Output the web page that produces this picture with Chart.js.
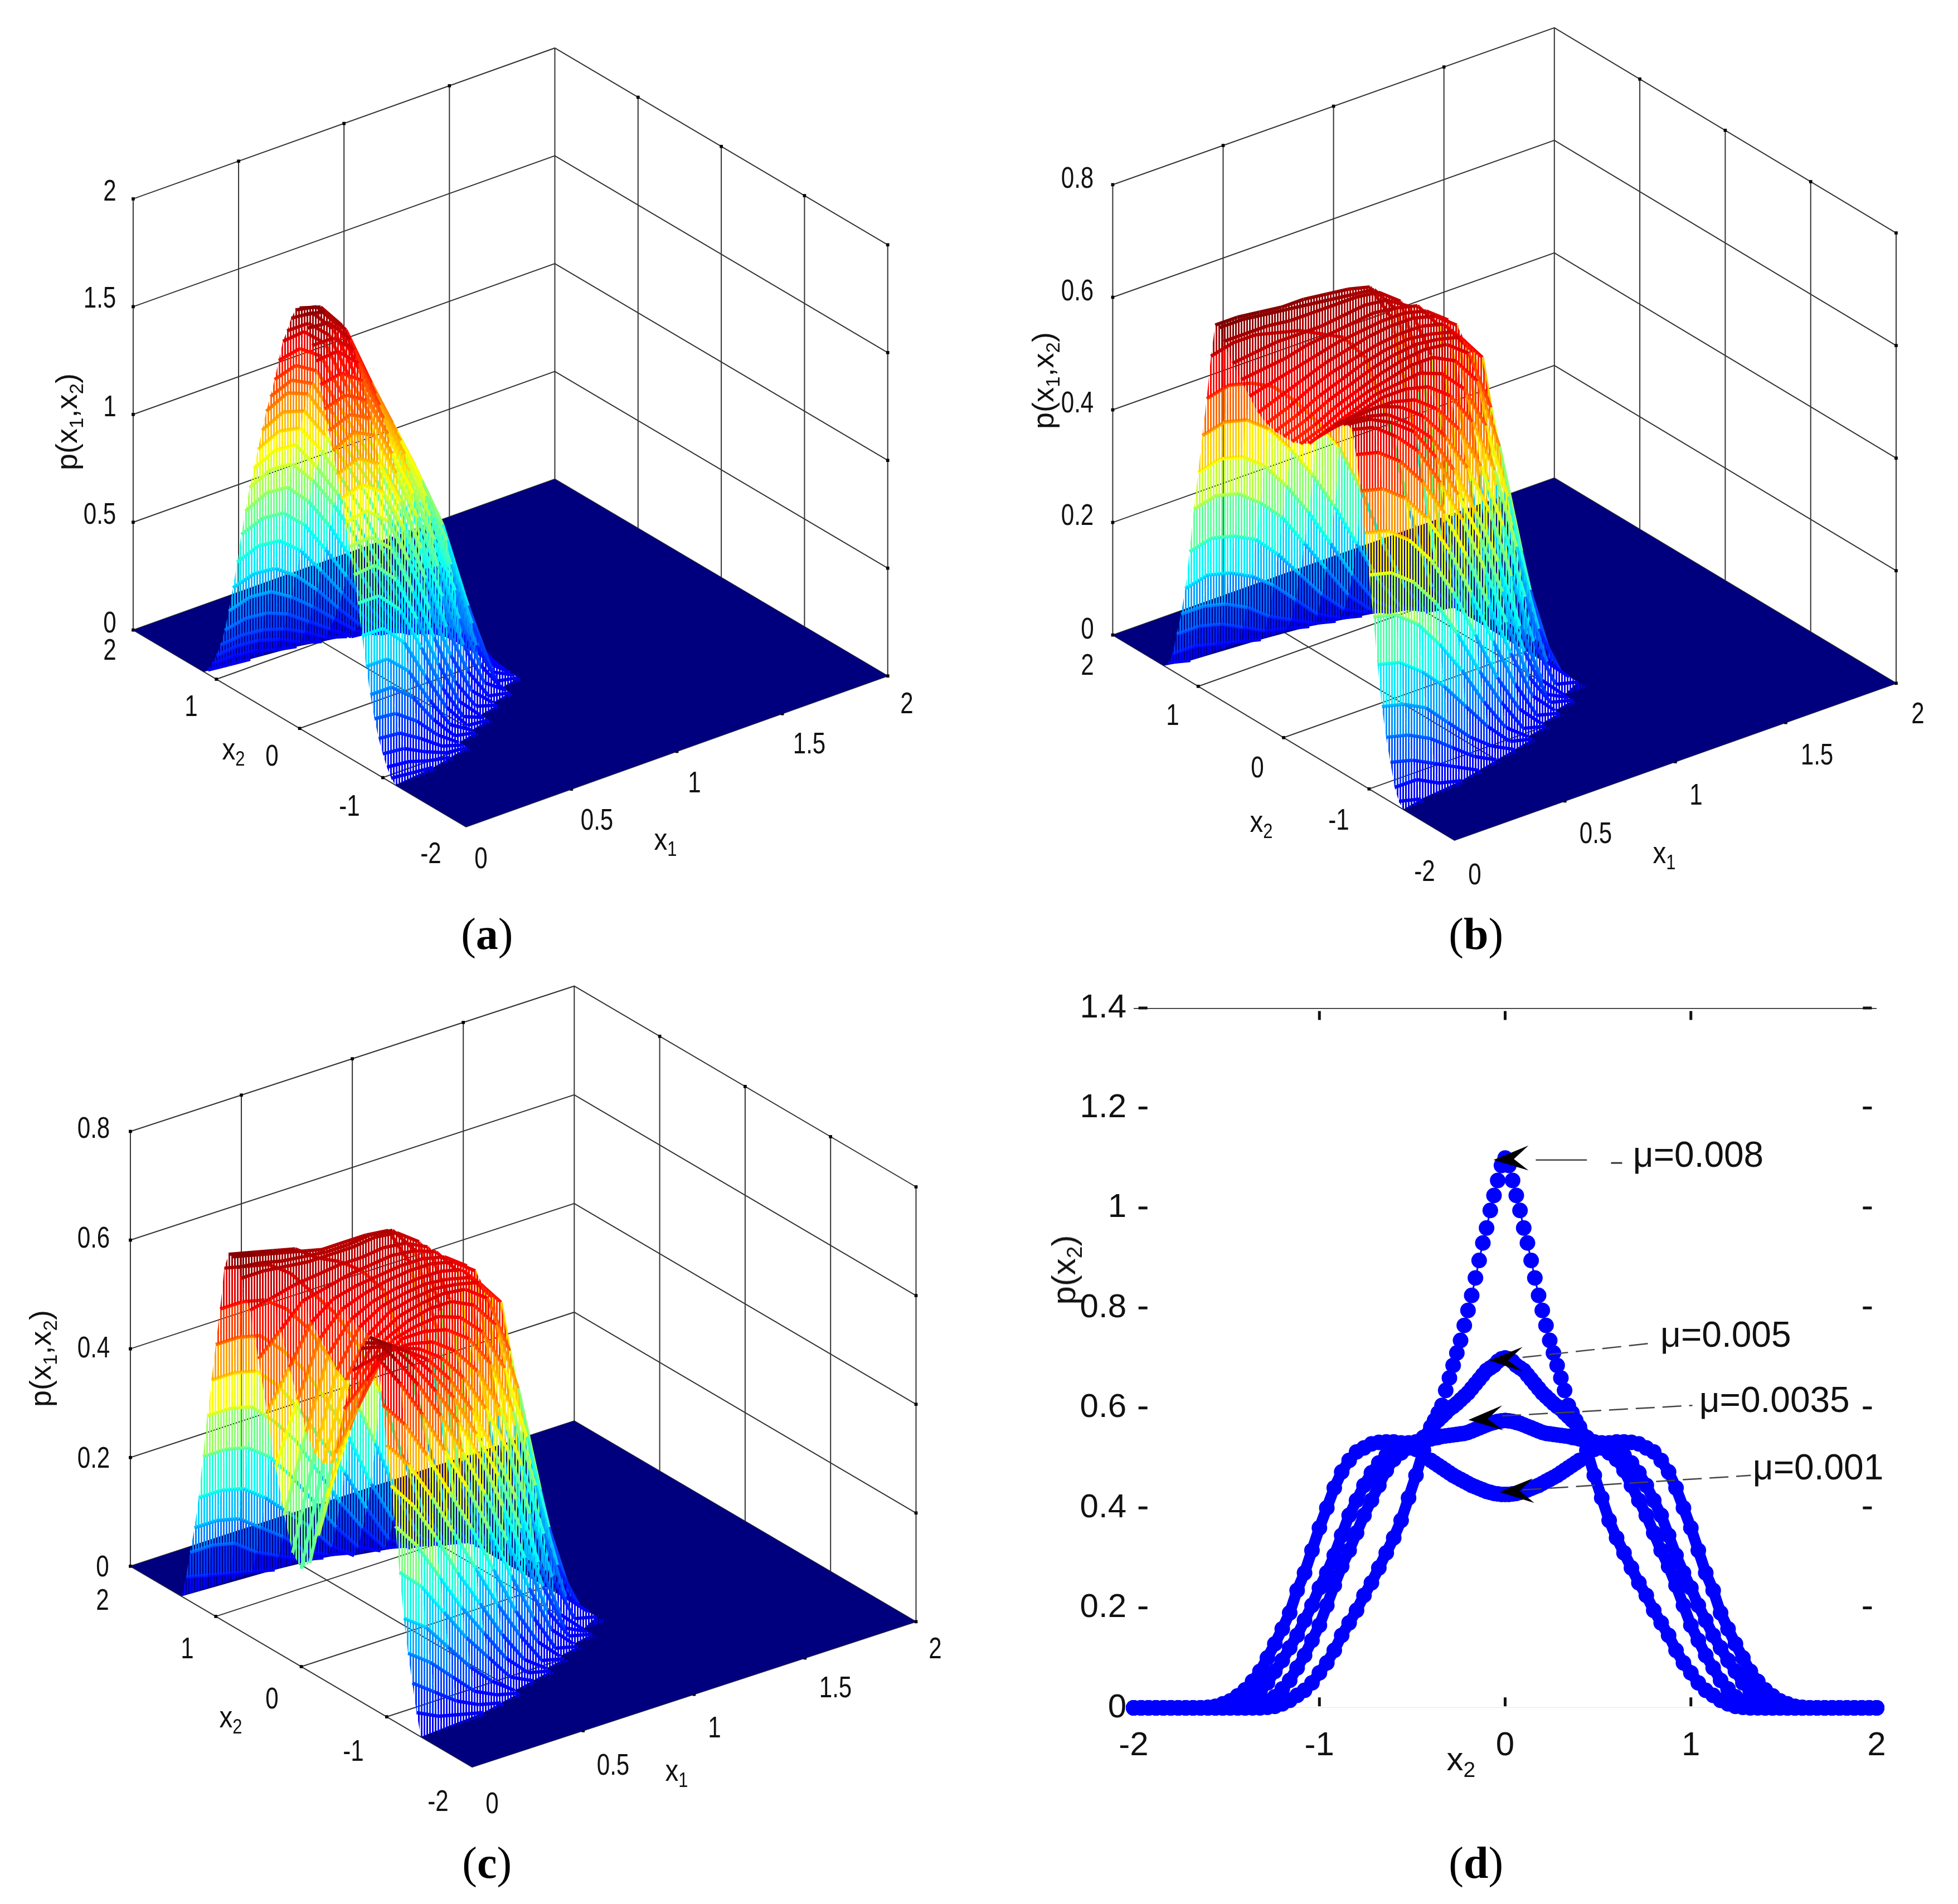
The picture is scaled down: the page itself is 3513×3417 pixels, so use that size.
<!DOCTYPE html>
<html>
<head>
<meta charset="utf-8">
<title>p(x1,x2)</title>
<script src="https://cdn.jsdelivr.net/npm/chart.js@4"></script>
<style>
html,body{margin:0;padding:0;background:#fff;}
#page{position:relative;width:3513px;height:3417px;overflow:hidden;background:#fff;}
canvas{position:absolute;}
.lab{position:absolute;font-family:"Liberation Sans",sans-serif;color:#111;white-space:nowrap;line-height:1;}
.lab sub{font-size:65%;vertical-align:-0.3em;line-height:0;}
.cap{position:absolute;font-family:"Liberation Serif",serif;font-size:80px;color:#000;white-space:nowrap;line-height:1;transform:translate(-50%,-50%);}
</style>
</head>
<body>
<div id="page"></div>
<script>
// surface tables. rows are |x2|, far = x2 >= 0 side, near = x2 <= 0 side
const x1ColsA = [0,.1,.2,.3,.4,.5,.6,.7,.8,.9];
const x2RowsA = [0,.05,.1,.15,.2,.25,.3,.35,.4,.45,.5,.55,.6,.65,.7,.75,.8,.85,.9,.95,1,1.05,1.1,1.15];
const surfaceA = [
  [1.95,1.92,1.80,1.56,1.33,1.11,.85,.50,.15,0],
  [1.93,1.91,1.79,1.55,1.32,1.10,.84,.49,.15,0],
  [1.88,1.87,1.76,1.52,1.30,1.08,.83,.48,.15,0],
  [1.81,1.81,1.72,1.48,1.27,1.05,.81,.47,.14,0],
  [1.75,1.76,1.67,1.44,1.24,1.02,.79,.46,.14,0],
  [1.65,1.67,1.60,1.39,1.19,.98,.76,.44,.13,0],
  [1.55,1.58,1.52,1.33,1.14,.94,.72,.42,.13,0],
  [1.46,1.50,1.45,1.27,1.09,.90,.68,.40,.12,0],
  [1.38,1.43,1.39,1.22,1.04,.86,.65,.38,.12,0],
  [1.28,1.33,1.30,1.15,.98,.80,.58,.33,.09,0],
  [1.18,1.23,1.21,1.07,.90,.71,.49,.26,.06,0],
  [1.08,1.13,1.12,.98,.82,.63,.42,.21,.04,0],
  [.98,1.03,1.02,.91,.76,.58,.36,.16,.03,0],
  [.86,.91,.90,.80,.65,.47,.27,.11,.01,0],
  [.74,.78,.77,.68,.53,.37,.20,.06,0,0],
  [.60,.64,.63,.55,.42,.28,.14,.03,0,0],
  [.47,.50,.49,.42,.32,.20,.09,.01,0,0],
  [.35,.38,.37,.31,.23,.14,.05,0,0,0],
  [.25,.27,.26,.22,.15,.08,.01,0,0,0],
  [.17,.18,.17,.14,.09,.03,0,0,0,0],
  [.11,.12,.11,.08,.03,0,0,0,0,0],
  [.06,.06,.05,.02,0,0,0,0,0,0],
  [.02,.01,0,0,0,0,0,0,0,0],
  [0,0,0,0,0,0,0,0,0,0]
];
const nearA = [
  [1.95,1.92,1.80,1.56,1.33,1.11,.85,.50,.15,0],
  [1.93,1.91,1.79,1.55,1.32,1.10,.84,.49,.15,0],
  [1.88,1.87,1.76,1.52,1.30,1.08,.83,.48,.14,0],
  [1.81,1.81,1.72,1.48,1.27,1.05,.81,.46,.12,0],
  [1.75,1.76,1.67,1.44,1.24,1.02,.78,.43,.10,0],
  [1.65,1.67,1.60,1.39,1.19,.96,.72,.38,.08,0],
  [1.55,1.58,1.52,1.33,1.12,.88,.62,.31,.05,0],
  [1.46,1.50,1.45,1.25,1.03,.78,.51,.22,.02,0],
  [1.38,1.43,1.38,1.17,.93,.67,.39,.14,0,0],
  [1.28,1.32,1.26,1.05,.80,.54,.28,.07,0,0],
  [1.18,1.21,1.14,.93,.67,.41,.17,.02,0,0],
  [1.08,1.10,1.02,.80,.54,.29,.09,0,0,0],
  [.98,.99,.90,.67,.42,.18,.03,0,0,0],
  [.86,.87,.77,.55,.31,.10,0,0,0,0],
  [.74,.74,.64,.43,.21,.04,0,0,0,0],
  [.60,.60,.50,.31,.13,.01,0,0,0,0],
  [.47,.47,.38,.21,.06,0,0,0,0,0],
  [.35,.35,.27,.13,.02,0,0,0,0,0],
  [.25,.24,.17,.07,0,0,0,0,0,0],
  [.17,.16,.10,.03,0,0,0,0,0,0],
  [.11,.10,.05,.01,0,0,0,0,0,0],
  [.06,.05,.02,0,0,0,0,0,0,0],
  [.02,.01,0,0,0,0,0,0,0,0],
  [0,0,0,0,0,0,0,0,0,0]
];

const x1ColsBC = [0,.1,.2,.3,.4,.5,.6,.7,.8,.9,1,1.1];
const x2RowsBC = [0,.1,.2,.3,.4,.5,.6,.7,.75,.8,.85,.9,.95,1,1.05,1.1,1.15,1.2,1.25,1.3,1.35,1.4];
const surfaceB = [
  [.535,.55,.57,.585,.60,.61,.615,.61,.60,.55,.30,.03],
  [.535,.55,.57,.585,.60,.61,.615,.61,.60,.55,.30,.03],
  [.54,.555,.575,.59,.60,.61,.615,.615,.605,.56,.30,.03],
  [.55,.565,.58,.595,.605,.615,.62,.62,.61,.58,.30,.02],
  [.57,.58,.59,.60,.61,.615,.62,.62,.61,.58,.28,.02],
  [.59,.595,.60,.61,.615,.62,.625,.62,.61,.56,.24,.02],
  [.61,.615,.62,.62,.62,.625,.63,.625,.60,.50,.20,.01],
  [.64,.64,.64,.635,.635,.635,.635,.63,.60,.46,.18,.01],
  [.66,.66,.655,.65,.645,.64,.635,.63,.58,.42,.15,.01],
  [.66,.66,.655,.65,.65,.645,.64,.63,.56,.35,.10,0],
  [.60,.61,.61,.60,.59,.57,.55,.50,.38,.20,.05,0],
  [.52,.53,.52,.50,.46,.41,.35,.26,.15,.06,0,0],
  [.45,.46,.45,.42,.37,.31,.24,.16,.08,.02,0,0],
  [.38,.39,.38,.35,.30,.24,.17,.10,.04,.01,0,0],
  [.31,.32,.31,.28,.24,.18,.12,.06,.02,0,0,0],
  [.23,.24,.23,.21,.17,.12,.07,.03,.01,0,0,0],
  [.16,.17,.16,.14,.11,.07,.03,.01,0,0,0,0],
  [.11,.11,.10,.08,.05,.03,.01,0,0,0,0,0],
  [.07,.07,.06,.04,.02,.01,0,0,0,0,0,0],
  [.03,.03,.02,.01,0,0,0,0,0,0,0,0],
  [.01,0,0,0,0,0,0,0,0,0,0,0],
  [0,0,0,0,0,0,0,0,0,0,0,0]
];
const nearB = [
  [.535,.55,.57,.585,.60,.61,.615,.61,.60,.55,.30,.03],
  [.535,.55,.57,.585,.60,.61,.615,.61,.58,.47,.25,.03],
  [.54,.555,.575,.59,.60,.61,.61,.59,.54,.41,.21,.02],
  [.55,.565,.58,.595,.60,.605,.59,.55,.47,.33,.15,.01],
  [.57,.58,.59,.60,.60,.59,.56,.50,.40,.25,.09,0],
  [.59,.595,.60,.60,.59,.56,.51,.43,.31,.17,.04,0],
  [.61,.615,.615,.60,.57,.52,.45,.36,.23,.10,.01,0],
  [.62,.62,.61,.58,.54,.47,.38,.28,.15,.04,0,0],
  [.625,.62,.60,.57,.51,.43,.34,.23,.11,.02,0,0],
  [.62,.61,.58,.54,.47,.39,.29,.18,.07,.01,0,0],
  [.58,.57,.54,.49,.42,.33,.23,.13,.04,0,0,0],
  [.52,.51,.48,.43,.36,.27,.17,.08,.01,0,0,0],
  [.45,.44,.41,.36,.29,.20,.11,.04,0,0,0,0],
  [.38,.37,.34,.29,.22,.14,.07,.01,0,0,0,0],
  [.31,.30,.27,.22,.16,.09,.03,0,0,0,0,0],
  [.23,.22,.19,.15,.10,.05,.01,0,0,0,0,0],
  [.16,.15,.13,.09,.05,.02,0,0,0,0,0,0],
  [.11,.10,.08,.05,.02,0,0,0,0,0,0,0],
  [.07,.06,.04,.02,0,0,0,0,0,0,0,0],
  [.03,.03,.01,0,0,0,0,0,0,0,0,0],
  [.01,0,0,0,0,0,0,0,0,0,0,0],
  [0,0,0,0,0,0,0,0,0,0,0,0]
];
const surfaceC = [
  [.18,.36,.50,.57,.60,.61,.615,.61,.60,.55,.30,.03],
  [.20,.37,.51,.575,.60,.61,.615,.61,.60,.55,.30,.03],
  [.26,.40,.53,.58,.60,.61,.615,.615,.605,.56,.30,.03],
  [.34,.45,.55,.59,.605,.615,.62,.62,.61,.58,.30,.02],
  [.43,.50,.57,.60,.61,.615,.62,.62,.61,.58,.28,.02],
  [.52,.56,.60,.61,.62,.625,.63,.625,.61,.56,.24,.02],
  [.60,.61,.62,.625,.63,.63,.635,.63,.61,.50,.20,.01],
  [.65,.65,.645,.64,.64,.64,.645,.64,.61,.47,.18,.01],
  [.665,.66,.65,.645,.64,.64,.645,.64,.59,.43,.15,.01],
  [.68,.67,.66,.65,.64,.64,.64,.635,.56,.36,.10,0],
  [.68,.67,.66,.65,.62,.60,.57,.52,.39,.21,.05,0],
  [.65,.64,.63,.60,.55,.50,.43,.33,.20,.08,.01,0],
  [.57,.57,.56,.53,.48,.41,.33,.23,.12,.03,0,0],
  [.50,.50,.49,.45,.40,.33,.25,.15,.07,.01,0,0],
  [.43,.43,.42,.38,.32,.25,.18,.10,.03,0,0,0],
  [.36,.36,.35,.31,.26,.19,.12,.06,.01,0,0,0],
  [.28,.28,.27,.24,.19,.13,.07,.02,0,0,0,0],
  [.20,.20,.19,.16,.12,.08,.03,0,0,0,0,0],
  [.14,.14,.13,.10,.07,.03,.01,0,0,0,0,0],
  [.09,.09,.08,.05,.03,.01,0,0,0,0,0,0],
  [.04,.03,.02,.01,0,0,0,0,0,0,0,0],
  [0,0,0,0,0,0,0,0,0,0,0,0]
];
const nearC = [
  [.18,.36,.50,.57,.60,.61,.615,.61,.60,.55,.30,.03],
  [.20,.37,.51,.575,.60,.61,.615,.61,.58,.47,.25,.03],
  [.26,.40,.53,.58,.60,.61,.61,.59,.54,.41,.21,.02],
  [.34,.45,.55,.59,.60,.605,.59,.55,.47,.33,.15,.01],
  [.43,.50,.57,.60,.60,.59,.56,.50,.40,.25,.09,0],
  [.52,.56,.60,.60,.59,.56,.51,.43,.31,.17,.04,0],
  [.60,.61,.615,.60,.57,.52,.45,.36,.23,.10,.01,0],
  [.65,.64,.62,.59,.54,.47,.38,.28,.15,.04,0,0],
  [.665,.65,.62,.57,.51,.43,.34,.23,.11,.02,0,0],
  [.68,.65,.60,.54,.47,.39,.29,.18,.07,.01,0,0],
  [.68,.63,.57,.50,.42,.33,.23,.13,.04,0,0,0],
  [.65,.59,.52,.44,.36,.27,.17,.08,.01,0,0,0],
  [.57,.52,.45,.37,.29,.20,.11,.04,0,0,0,0],
  [.50,.45,.38,.30,.22,.14,.07,.01,0,0,0,0],
  [.43,.38,.31,.23,.16,.09,.03,0,0,0,0,0],
  [.36,.31,.24,.17,.11,.05,.01,0,0,0,0,0],
  [.28,.24,.18,.12,.07,.02,0,0,0,0,0,0],
  [.20,.17,.12,.07,.03,0,0,0,0,0,0,0],
  [.14,.11,.07,.03,.01,0,0,0,0,0,0,0],
  [.09,.06,.03,.01,0,0,0,0,0,0,0,0],
  [.04,.02,.01,0,0,0,0,0,0,0,0,0],
  [0,0,0,0,0,0,0,0,0,0,0,0]
];

// panel (d): x2 >= 0 half of each curve
const x2Half = [0,.02,.04,.06,.08,.1,.12,.14,.16,.18,.2,.22,.24,.26,.28,.3,.32,.34,.36,.38,.4,
  .44,.48,.52,.56,.6,.64,.68,.72,.76,.8,.84,.88,.92,.96,1,1.04,1.08,1.12,1.16,1.2,
  1.24,1.28,1.32,1.36,1.4,1.44,1.48,1.52,1.56,1.6,1.64,1.68,1.72,1.76,1.8,1.84,1.88,1.92,1.96,2];
const mu008 = [1.10,1.085,1.055,1.025,.995,.96,.93,.895,.86,.825,.795,.765,.735,.71,.685,.66,.635,.605,.59,.575,.555,
  .515,.465,.42,.375,.34,.31,.28,.25,.225,.195,.17,.145,.115,.09,.07,.05,.035,.025,.015,.008,.003,.001,0,
  0,0,0,0,0,0,0,0,0,0,0,0,0,0,0,0,0];
const mu005 = [.70,.698,.693,.685,.68,.675,.666,.657,.648,.639,.63,.623,.616,.609,.603,.598,.59,.583,.576,.569,.562,
  .541,.53,.52,.51,.497,.475,.445,.415,.385,.35,.315,.283,.245,.205,.165,.135,.105,.08,.055,.038,.022,.012,.005,.001,
  0,0,0,0,0,0,0,0,0,0,0,0,0,0,0,0];
const mu0035 = [.575,.574,.573,.571,.569,.566,.563,.56,.557,.554,.551,.549,.548,.547,.546,.545,.544,.543,.541,.54,.538,
  .535,.532,.53,.525,.515,.505,.49,.47,.445,.415,.385,.345,.305,.27,.24,.205,.175,.145,.12,.095,.073,.05,.032,.02,.01,.005,.002,
  0,0,0,0,0,0,0,0,0,0,0,0,0];
const mu001 = [.427,.427,.428,.429,.431,.433,.436,.439,.442,.445,.449,.453,.457,.461,.465,.47,.475,.48,.485,.49,.495,
  .505,.517,.526,.53,.532,.532,.531,.528,.52,.512,.495,.472,.44,.40,.36,.315,.27,.235,.19,.158,.128,.10,.073,.053,.036,.024,.014,.008,.003,.001,
  0,0,0,0,0,0,0,0,0,0];
const yTicksD = [0,.2,.4,.6,.8,1,1.2,1.4];
const xTicksD = [-2,-1,0,1,2];
const muLabels = ['μ=0.008','μ=0.005','μ=0.0035','μ=0.001'];

const page = document.getElementById('page');
const S = 3513/1568; // label spots were read on the 1568 wide view

function addText(html, sx, sy, size, extra, cls){
  const d = document.createElement('div');
  d.className = cls || 'lab';
  d.innerHTML = html;
  d.style.left = (sx*S)+'px';
  d.style.top = (sy*S)+'px';
  if(size) d.style.fontSize = size+'px';
  if(cls !== 'cap') d.style.transform = 'translate(-50%,-50%) '+(extra || '');
  page.appendChild(d);
}

function jet(t){
  const c = v => Math.round(255*Math.max(0,Math.min(1,v)));
  return [c(1.5-Math.abs(4*t-3)),c(1.5-Math.abs(4*t-2)),c(1.5-Math.abs(4*t-1))];
}
function jetCss(t){ return 'rgb('+jet(.1+.9*t).join(',')+')'; }

// vertical hatch, the source mesh lets the white through between its lines
const hatchCache = {};
function hatch(t){
  const k = Math.round(Math.max(0,Math.min(1,t))*63);
  if(!hatchCache[k]){
    const cv = document.createElement('canvas');
    cv.width = 5; cv.height = 1;
    const g = cv.getContext('2d');
    g.fillStyle = jetCss(k/63);
    g.fillRect(0,0,3,1);
    hatchCache[k] = g.createPattern(cv,'repeat');
  }
  return hatchCache[k];
}

function line(pts, color, width, dash){
  return {data:pts, showLine:true, borderColor:color, borderWidth:width, borderDash:dash||[], pointRadius:0, fill:false};
}

function makeSurfacePanel(p){
  const proj = (x1,x2,z) => ({
    x: p.ox + x1*p.ex1[0] + (2-x2)*p.ex2[0],
    y: p.oy + x1*p.ex1[1] + (2-x2)*p.ex2[1] - z*p.ez,
    z: z
  });
  const sets = [];
  const wall = '#333';
  const marks = [];

  // walls
  p.zTicks.forEach(z => {
    sets.push(line([proj(0,2,z),proj(2,2,z),proj(2,-2,z)],wall,2));
    marks.push(proj(0,2,z),proj(2,-2,z));
  });
  [.5,1,1.5].forEach(v => {
    sets.push(line([proj(v,2,0),proj(v,2,p.zTop)],wall,2));
    marks.push(proj(v,2,p.zTop));
    sets.push(line([proj(v,2,0),proj(v,-2,0)],wall,2));
    marks.push(proj(v,-2,0));
  });
  [1,0,-1].forEach(v => {
    sets.push(line([proj(2,v,0),proj(2,v,p.zTop)],wall,2));
    marks.push(proj(2,v,p.zTop));
    sets.push(line([proj(0,v,0),proj(2,v,0)],wall,2));
    marks.push(proj(0,v,0));
  });
  sets.push(line([proj(0,2,0),proj(0,2,p.zTop)],wall,2));
  sets.push(line([proj(2,2,0),proj(2,2,p.zTop)],wall,2));
  sets.push(line([proj(2,-2,0),proj(2,-2,p.zTop)],wall,2));
  sets.push(line([proj(0,2,0),proj(0,-2,0),proj(2,-2,0)],wall,2));
  sets.push({data:marks, pointStyle:'rect', pointRadius:4, pointBackgroundColor:'#000', pointBorderWidth:0, showLine:false});

  // rows from far (+x2) to near (-x2)
  const rows = [...p.rows.slice().reverse(), ...p.rows.slice(1).map(v => -v)];
  const table = [...p.table.slice().reverse(), ...p.near.slice(1)];
  const cols = p.cols;

  // floor with the hole left where the surface lifts off it
  const edge = [];
  rows.forEach((r,i) => {
    let last = -1;
    table[i].forEach((v,c) => { if(v > 0) last = c; });
    if(last >= 0) edge.push(proj(cols[Math.min(last+1,cols.length-1)],r,0));
  });
  const first = rows[0];
  const floorPts = [proj(0,2,0),proj(2,2,0),proj(2,-2,0),proj(0,-2,0),proj(0,-first,0),...edge.reverse(),proj(0,first,0),proj(0,2,0)];
  sets.push({data:floorPts, showLine:true, borderWidth:0, pointRadius:0, fill:'shape', backgroundColor:'#00007f'});

  for(let r=0;r<rows.length-1;r++){
    for(let c=cols.length-2;c>=0;c--){
      const a = table[r][c], b = table[r][c+1], d = table[r+1][c+1], e = table[r+1][c];
      if(a+b+d+e === 0) continue;
      const avg = (a+b+d+e)/4;
      sets.push({
        data:[proj(cols[c],rows[r],a),proj(cols[c+1],rows[r],b),proj(cols[c+1],rows[r+1],d),proj(cols[c],rows[r+1],e),proj(cols[c],rows[r],a)],
        showLine:true, borderWidth:0, pointRadius:0, fill:'shape', backgroundColor:hatch(avg/p.zMax)
      });
    }
    // the mesh row itself, heavier than the hatch
    const next = r+1;
    let end = -1;
    table[next].forEach((v,c) => { if(v > 0) end = c; });
    if(end >= 0){
      const pts = [];
      for(let c=0;c<=Math.min(end+1,cols.length-1);c++) pts.push(proj(cols[c],rows[next],table[next][c]));
      sets.push({
        data:pts, showLine:true, borderWidth:6, pointRadius:0, fill:false, borderColor:'#00f',
        segment:{borderColor: ctx => jetCss((pts[ctx.p0DataIndex].z+pts[ctx.p1DataIndex].z)/2/p.zMax)}
      });
    }
  }

  const cv = document.createElement('canvas');
  cv.width = p.box[2]; cv.height = p.box[3];
  cv.style.left = p.box[0]+'px'; cv.style.top = p.box[1]+'px';
  page.appendChild(cv);
  new Chart(cv,{
    type:'scatter',
    data:{datasets:sets.reverse()}, // first dataset is painted last
    options:{
      responsive:false, animation:false, events:[],
      layout:{padding:0},
      plugins:{legend:{display:false},tooltip:{enabled:false},title:{display:false}},
      scales:{
        x:{type:'linear',display:false,min:p.box[0],max:p.box[0]+p.box[2]},
        y:{type:'linear',display:false,reverse:true,min:p.box[1],max:p.box[1]+p.box[3]}
      }
    }
  });

  p.labels.forEach(l => addText(l[0],l[1],l[2],54,'scaleX(.78)'));
  addText('x<sub>2</sub>',p.x2Title[0],p.x2Title[1],56,'scaleX(.85)');
  addText('x<sub>1</sub>',p.x1Title[0],p.x1Title[1],56,'scaleX(.85)');
  addText('p(x<sub>1</sub>,x<sub>2</sub>)',p.zTitle[0],p.zTitle[1],54,'rotate(-90deg)');
}

makeSurfacePanel({
  box:[0,0,1756,1700], ox:236, oy:1132, ex1:[380,-136], ex2:[150,88.7], ez:388.7,
  zTicks:[0,.5,1,1.5,2], zTop:2, zMax:1.95,
  rows:x2RowsA, cols:x1ColsA, table:surfaceA, near:nearA,
  labels:[['2',88,152],['1.5',80,238],['1',88,325],['0.5',80,411],['0',88,498],
    ['2',88,520],['1',153,565],['0',218,605],['-1',280,645],['-2',345,683],
    ['0',385,687],['0.5',478,656],['1',556,626],['1.5',648,595],['2',726,563]],
  x2Title:[187,600], x1Title:[533,672], zTitle:[53,338]
});
makeSurfacePanel({
  box:[1756,0,1757,1700], ox:1993.5, oy:1141, ex1:[398,-141.5], ex2:[154,92.5], ez:1015,
  zTicks:[0,.2,.4,.6,.8], zTop:.8, zMax:.66,
  rows:x2RowsBC, cols:x1ColsBC, table:surfaceB, near:nearB,
  labels:[['0.8',863,142],['0.6',863,232],['0.4',863,322],['0.2',863,412],['0',871,503],
    ['2',871,532],['1',939,572],['0',1007,614],['-1',1072,656],['-2',1141,697],
    ['0',1181,700],['0.5',1278,667],['1',1358,636],['1.5',1455,604],['2',1536,571]],
  x2Title:[1010,658], x1Title:[1333,683], zTitle:[835,305]
});
makeSurfacePanel({
  box:[0,1700,1756,1717], ox:231, oy:2812, ex1:[400,-131], ex2:[154,90.5], ez:980,
  zTicks:[0,.2,.4,.6,.8], zTop:.8, zMax:.68,
  rows:x2RowsBC, cols:x1ColsBC, table:surfaceC, near:nearC,
  labels:[['0.8',75,903],['0.6',75,991],['0.4',75,1079],['0.2',75,1167],['0',82,1254],
    ['2',82,1281],['1',150,1320],['0',218,1360],['-1',283,1402],['-2',351,1442],
    ['0',394,1444],['0.5',491,1413],['1',572,1383],['1.5',669,1351],['2',749,1320]],
  x2Title:[185,1375], x1Title:[542,1418], zTitle:[32,1088]
});

// panel (d)
function fullCurve(half){
  const pts = [];
  for(let i=x2Half.length-1;i>0;i--) pts.push({x:-x2Half[i],y:half[i]});
  for(let i=0;i<x2Half.length;i++) pts.push({x:x2Half[i],y:half[i]});
  return pts;
}
function curve(half, beadAbove){
  // the dots overlap into a solid band except on the thin top of the tallest curve
  return {data:fullCurve(half), showLine:true, borderColor:'#0000ff', borderWidth:20, pointRadius:14,
    pointBackgroundColor:'#0000ff', pointBorderWidth:0, clip:false,
    segment:{borderWidth: ctx => ctx.p0.parsed.y > beadAbove ? 3 : 20}};
}
function arrow(pts){
  return {data:pts.concat([pts[0]]), showLine:true, borderWidth:0, pointRadius:0, fill:'shape', backgroundColor:'#000'};
}
function leader(pts){
  return line(pts,'#444',2.5,[34,14]);
}
function tickMarks(pts,rot){
  return {data:pts, showLine:false, pointStyle:'line', pointRadius:8, pointBorderWidth:5, pointBorderColor:'#111', rotation:rot, clip:false};
}
const dSets = [
  arrow([{x:-.063,y:1.096},{x:.126,y:1.125},{x:.047,y:1.098},{x:.126,y:1.075}]),
  arrow([{x:-.085,y:.695},{x:.094,y:.722},{x:.016,y:.695},{x:.094,y:.673}]),
  arrow([{x:-.198,y:.576},{x:-.016,y:.605},{x:-.094,y:.578},{x:-.009,y:.555}]),
  arrow([{x:-.031,y:.432},{x:.148,y:.459},{x:.079,y:.434},{x:.157,y:.41}]),
  line([{x:.165,y:1.096},{x:.44,y:1.096}],'#444',2.5),
  line([{x:.57,y:1.09},{x:.63,y:1.09}],'#333',3),
  leader([{x:.094,y:.701},{x:.803,y:.73}]),
  leader([{x:-.016,y:.584},{x:1.008,y:.605}]),
  leader([{x:.094,y:.436},{x:1.323,y:.465}]),
  curve(mu008,.6), curve(mu005,9), curve(mu0035,9), curve(mu001,9),
  line([{x:-2,y:1.4},{x:2,y:1.4}],'#111',3),
  line([{x:-2,y:0},{x:2,y:0}],'#e8e8e8',2),
  tickMarks(yTicksD.map(v => ({x:-1.95,y:v})),0),
  tickMarks(yTicksD.map(v => ({x:1.95,y:v})),0),
  tickMarks([-1,0,1].map(v => ({x:v,y:1.385})),90),
  tickMarks([-1,0,1].map(v => ({x:v,y:.012})),90)
];
const cvD = document.createElement('canvas');
cvD.width = 1600; cvD.height = 1440;
cvD.style.left = '1840px'; cvD.style.top = '1760px';
page.appendChild(cvD);
new Chart(cvD,{
  type:'scatter',
  data:{datasets:dSets},
  options:{
    responsive:false, animation:false, events:[],
    layout:{padding:{top:44,right:73,bottom:0,left:0}},
    plugins:{legend:{display:false},tooltip:{enabled:false},title:{display:false}},
    scales:{
      x:{type:'linear',min:-2,max:2,
        grid:{display:false,drawTicks:false},border:{display:false},
        afterBuildTicks:s => { s.ticks = xTicksD.map(v => ({value:v})); },
        afterFit:s => { s.height = 135; },
        ticks:{color:'#111',font:{family:'Liberation Sans',size:60},padding:32,maxRotation:0,autoSkip:false,
          callback:v => String(v)}},
      y:{type:'linear',min:0,max:1.4,
        grid:{display:false,drawTicks:false},border:{display:false},
        afterBuildTicks:s => { s.ticks = yTicksD.map(v => ({value:v})); },
        afterFit:s => { s.width = 194; },
        ticks:{color:'#111',font:{family:'Liberation Sans',size:60},padding:13,autoSkip:false,
          callback:v => String(v)}}
    }
  }
});
addText(muLabels[0],1360,925,64);
addText(muLabels[1],1382,1069,64);
addText(muLabels[2],1421,1121,64);
addText(muLabels[3],1456,1175,64);
addText('p(x<sub>2</sub>)',852,1017,60,'rotate(-90deg)');
addText('x<sub>2</sub>',1170,1409,60);

addText('(<b>a</b>)',390,748,0,'','cap');
addText('(<b>b</b>)',1182,748,0,'','cap');
addText('(<b>c</b>)',390,1492,0,'','cap');
addText('(<b>d</b>)',1182,1492,0,'','cap');
</script>
</body>
</html>
